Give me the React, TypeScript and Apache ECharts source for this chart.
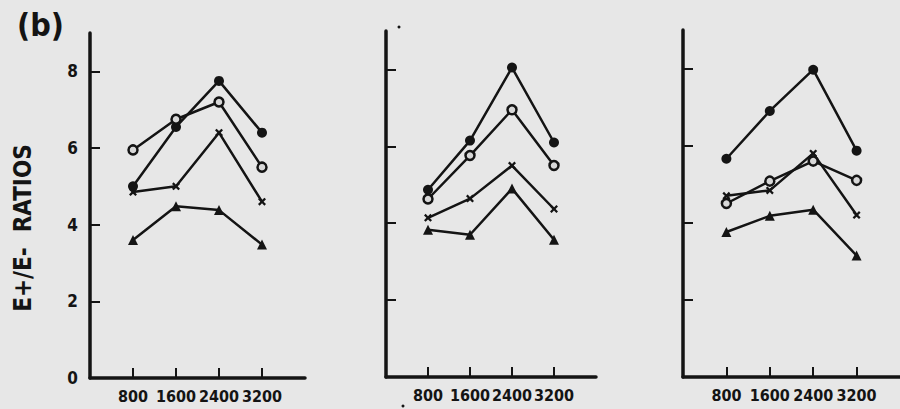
import React, { useEffect, useRef } from "react";
import * as echarts from "echarts";

const xValues = [800, 1600, 2400, 3200];
const yTickValues = [0, 2, 4, 6, 8];

const p1Filled = [5.0, 6.55, 7.75, 6.4];
const p1Open = [5.95, 6.75, 7.2, 5.5];
const p1Cross = [4.85, 5.0, 6.4, 4.6];
const p1Tri = [3.6, 4.48, 4.38, 3.48];

const p2Filled = [4.87, 6.15, 8.05, 6.1];
const p2Open = [4.63, 5.76, 6.95, 5.5];
const p2Cross = [4.14, 4.64, 5.5, 4.37];
const p2Tri = [3.83, 3.7, 4.9, 3.57];

const p3Filled = [5.66, 6.9, 7.97, 5.87];
const p3Open = [4.5, 5.08, 5.6, 5.1];
const p3Cross = [4.7, 4.84, 5.8, 4.2];
const p3Tri = [3.76, 4.18, 4.34, 3.15];

const FONT = "'Liberation Sans Narrow', 'DejaVu Sans Condensed', sans-serif";
const INK = "#141414";
const BG = "#e7e7e7";
const CROSS =
  "path://M0,2 L2,0 L5,3 L8,0 L10,2 L7,5 L10,8 L8,10 L5,7 L2,10 L0,8 L3,5 Z";

const panels = [
  [p1Filled, p1Open, p1Cross, p1Tri],
  [p2Filled, p2Open, p2Cross, p2Tri],
  [p3Filled, p3Open, p3Cross, p3Tri],
];

export default function App() {
  const ref = useRef<HTMLDivElement>(null);
  useEffect(() => {
    document.body.style.margin = "0";
    const chart = echarts.init(ref.current!, null, { renderer: "svg" });
    const grids = [
      { left: 90, top: 33, width: 215, height: 345 },
      { left: 386, top: 31, width: 210, height: 346 },
      { left: 683, top: 30, width: 217, height: 347 },
    ];
    const axisLine = { show: true, onZero: false, lineStyle: { color: INK, width: 3.5 } };
    const xAxis = grids.map((_, i) => ({
      type: "value",
      gridIndex: i,
      min: 0,
      max: 4000,
      interval: 800,
      axisLine,
      splitLine: { show: false },
      axisTick: {
        show: true,
        inside: true,
        length: 10,
        customValues: xValues,
        lineStyle: { color: INK, width: 2 },
      },
      axisLabel: {
        show: true,
        customValues: xValues,
        hideOverlap: false,
        formatter: (v: number) => String(v),
        margin: 10,
        color: INK,
        fontFamily: FONT,
        fontWeight: "bold",
        fontSize: 16,
      },
    }));
    const yAxis = grids.map((_, i) => ({
      type: "value",
      gridIndex: i,
      min: 0,
      max: 9,
      axisLine,
      splitLine: { show: false },
      axisTick: {
        show: true,
        inside: true,
        length: 10,
        customValues: yTickValues,
        lineStyle: { color: INK, width: 2 },
      },
      axisLabel: {
        show: i === 0,
        customValues: yTickValues,
        formatter: (v: number) => String(v),
        margin: 12,
        color: INK,
        fontFamily: FONT,
        fontWeight: "bold",
        fontSize: 17,
      },
    }));
    const styles = [
      { symbol: "circle", symbolSize: 10, itemStyle: { color: INK } },
      {
        symbol: "circle",
        symbolSize: 9,
        itemStyle: { color: "#d8d8d8", borderColor: INK, borderWidth: 2.5 },
      },
      { symbol: CROSS, symbolSize: 8, itemStyle: { color: INK } },
      { symbol: "triangle", symbolSize: 10, itemStyle: { color: INK } },
    ];
    const series: any[] = [];
    panels.forEach((panel, pi) => {
      panel.forEach((vals, si) => {
        series.push({
          type: "line",
          xAxisIndex: pi,
          yAxisIndex: pi,
          data: xValues.map((x, k) => [x, vals[k]]),
          lineStyle: { color: INK, width: 2.5 },
          ...styles[si],
        });
      });
    });
    chart.setOption({
      animation: false,
      backgroundColor: BG,
      grid: grids,
      xAxis,
      yAxis,
      series,
      graphic: [
        {
          type: "text",
          left: 17,
          top: 9,
          style: {
            text: "(b)",
            fontFamily: FONT,
            fontSize: 32,
            fontWeight: "bold",
            fill: INK,
          },
        },
        {
          type: "text",
          x: 23,
          y: 228,
          rotation: Math.PI / 2,
          style: {
            text: "E+/E-  RATIOS",
            fontFamily: FONT,
            fontSize: 24,
            fontWeight: 600,
            fill: INK,
            align: "center",
            verticalAlign: "middle",
          },
        },
        { type: "circle", shape: { cx: 399, cy: 27, r: 1.5 }, style: { fill: INK } },
        { type: "circle", shape: { cx: 403, cy: 406, r: 1.5 }, style: { fill: INK } },
      ],
    });
    return () => chart.dispose();
  }, []);
  return <div ref={ref} style={{ width: 900, height: 409 }} />;
}
